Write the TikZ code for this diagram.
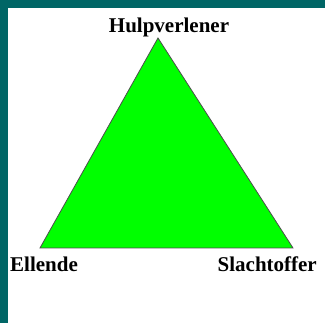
\documentclass[tikz,border=0pt]{standalone}
\usepackage{fontspec}
\setmainfont{Liberation Serif}
\usetikzlibrary{positioning}
\definecolor{bandteal}{RGB}{0,102,102}
\definecolor{vertexgreen}{RGB}{0,255,0}

\begin{document}
\begin{tikzpicture}[x=1pt, y=-1pt,
    lbl/.style={font=\bfseries\fontsize{21}{25}\selectfont, inner sep=0pt}]
    \useasboundingbox (0,0) rectangle (325,323);
    % Frame bands
    \fill[bandteal] (0,0) rectangle (325,8);
    \fill[bandteal] (0,0) rectangle (8,323);

    % Triangle
    \coordinate (top) at (158,38);
    \coordinate (left) at (40,248);
    \coordinate (right) at (293,248);
    \filldraw[fill=vertexgreen, draw=black!70, line width=0.8pt] (top) -- (left) -- (right) -- cycle;

    % Labels
    \node[lbl, anchor=base] (hulp) at (169,33) {Hulpverlener};
    \node[lbl, anchor=base west] (ellende) at (10,272) {Ellende};
    \node[lbl, anchor=base east] (slacht) at (317,272) {Slachtoffer};
\end{tikzpicture}
\end{document}
